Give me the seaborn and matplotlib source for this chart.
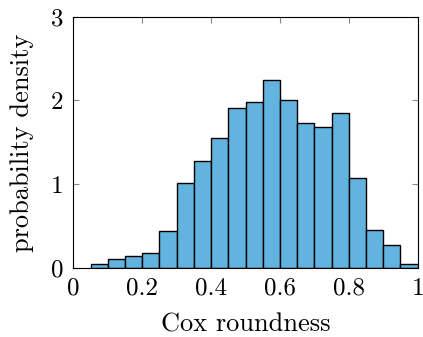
import numpy as np
import pandas as pd
import matplotlib
matplotlib.use("Agg")
import matplotlib.pyplot as plt
import seaborn as sns

# Histogram of Cox roundness, normalised to a probability density
bin_edges = [0.05, 0.10, 0.15, 0.20, 0.25, 0.30, 0.35, 0.40, 0.45, 0.50,
             0.55, 0.60, 0.65, 0.70, 0.75, 0.80, 0.85, 0.90, 0.95, 1.00]
density = [0.052, 0.108, 0.144, 0.180, 0.439, 1.018, 1.273, 1.549, 1.912, 1.984,
           2.244, 2.008, 1.729, 1.681, 1.856, 1.070, 0.455, 0.271, 0.052]
x_ticks = [0, 0.2, 0.4, 0.6, 0.8, 1]
x_tick_labels = ["0", "0.2", "0.4", "0.6", "0.8", "1"]
y_ticks = [0, 1, 2, 3]
y_tick_labels = ["0", "1", "2", "3"]

centers = [(a + b) / 2 for a, b in zip(bin_edges[:-1], bin_edges[1:])]
df = pd.DataFrame({"roundness": centers, "density": density})

sns.set_theme(style="white")
plt.rcParams["font.family"] = ["cmr10", "DejaVu Serif"]
plt.rcParams["mathtext.fontset"] = "cm"
plt.rcParams["axes.formatter.use_mathtext"] = True

fig = plt.figure(figsize=(4.23, 3.37), dpi=100)
ax = fig.add_axes([0.1733, 0.2047, 0.8142, 0.7457])

sns.histplot(data=df, x="roundness", weights="density", bins=bin_edges,
             stat="count", color="#62b3df", alpha=1.0,
             edgecolor="black", linewidth=1.0, ax=ax)

ax.set_xlim(0, 1)
ax.set_ylim(0, 3)
ax.set_xticks(x_ticks)
ax.set_xticklabels(x_tick_labels)
ax.set_yticks(y_ticks)
ax.set_yticklabels(y_tick_labels)
ax.tick_params(direction="in", length=4, width=0.8, color="#888888",
               top=True, right=True, bottom=True, left=True,
               labelsize=18, pad=7, labelcolor="black")
for s in ax.spines.values():
    s.set_color("black")
    s.set_linewidth(0.8)
ax.set_xlabel("Cox roundness", fontsize=19, labelpad=9, color="black")
ax.set_ylabel("probability density", fontsize=19, labelpad=12, color="black")

fig.savefig("out.png", dpi=100)
